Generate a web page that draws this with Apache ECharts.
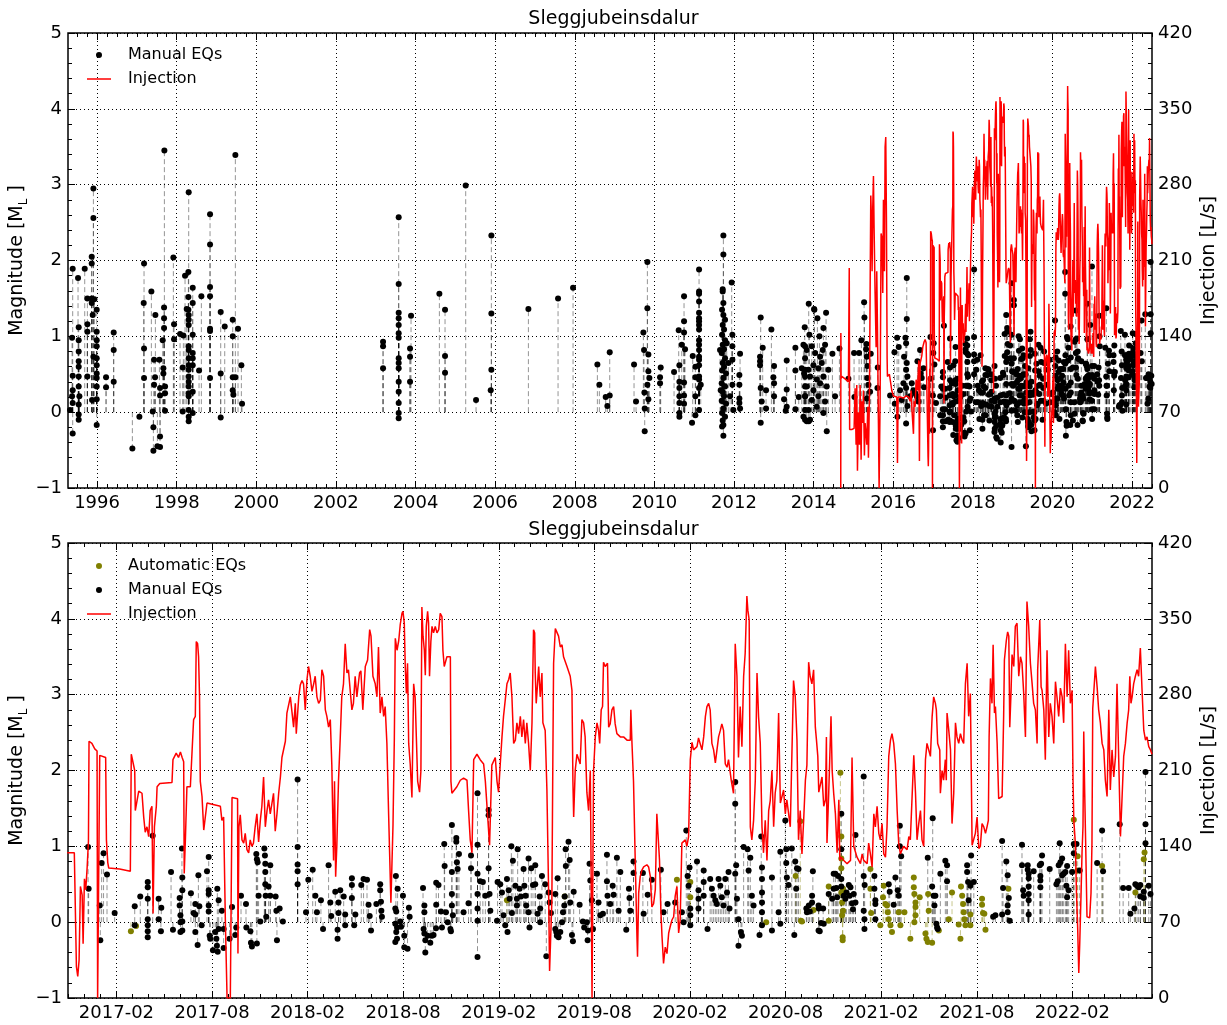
<!DOCTYPE html>
<html>
<head>
<meta charset="utf-8">
<title>Sleggjubeinsdalur</title>
<script src="https://cdn.jsdelivr.net/npm/echarts@6/dist/echarts.min.js"></script>
<style>
  html, body { margin: 0; padding: 0; background: #fff; }
  #chart { width: 1227px; height: 1025px; }
</style>
</head>
<body>
<div id="chart"></div>
<script>
// all times are decimal years, magnitudes in ML, injection in L/s

const topYearTicks = [1996, 1998, 2000, 2002, 2004, 2006, 2008, 2010, 2012, 2014, 2016, 2018, 2020, 2022];
const bottomMonthTicks = ['2017-02', '2017-08', '2018-02', '2018-08', '2019-02', '2019-08', '2020-02', '2020-08', '2021-02', '2021-08', '2022-02'];

const manualEQs = [
  [1995.388,1.89],[1995.522,1.77],[1995.69,1.89],[1995.372,0.98],[1995.388,0.48],[1995.388,0.29],[1995.372,0.21],[1995.388,0.12],
  [1995.322,0.03],[1995.388,-0.28],[1995.539,1.12],[1995.539,0.95],[1995.539,0.80],[1995.539,0.67],[1995.539,0.60],[1995.539,0.47],
  [1995.539,0.34],[1995.556,0.21],[1995.539,0.10],[1995.539,-0.03],[1995.539,-0.10],[1995.757,1.16],[1995.757,1.06],[1995.757,1.50],
  [1995.757,0.47],[1995.866,2.05],[1995.866,1.96],[1995.866,1.50],[1995.866,1.44],[1995.891,1.28],[1995.908,0.73],[1995.874,0.16],
  [1995.991,1.35],[1995.991,1.06],[1995.991,0.95],[1995.991,0.87],[1995.991,0.71],[1995.991,0.62],[1995.991,0.51],[1995.991,0.45],
  [1995.991,0.34],[1995.991,0.17],[1995.991,-0.17],[1995.933,1.49],[1995.908,2.95],[1995.908,2.56],[1996.226,0.46],[1996.226,0.33],
  [1996.418,1.05],[1996.418,0.82],[1996.418,0.40],[1996.887,-0.48],[1997.063,-0.06],[1997.18,1.96],[1997.172,1.44],[1997.18,0.84],
  [1997.18,0.45],[1997.364,1.59],[1997.398,0.01],[1997.415,-0.20],[1997.415,-0.51],[1997.432,0.36],[1997.432,0.69],[1997.465,1.28],
  [1997.457,0.46],[1997.515,-0.45],[1997.566,0.69],[1997.582,-0.32],[1997.582,-0.46],[1997.582,0.32],[1997.582,0.22],[1997.649,0.95],
  [1997.666,0.58],[1997.666,0.51],[1997.683,1.24],[1997.683,1.38],[1997.683,1.11],[1997.708,0.34],[1997.708,0.25],[1997.708,0.02],
  [1997.691,3.45],[1997.917,2.04],[1997.934,1.16],[1997.934,0.96],[1998.085,1.03],[1998.168,1.01],[1998.151,0.59],[1998.151,0.01],
  [1998.21,1.80],[1998.294,1.85],[1998.252,1.36],[1998.294,1.52],[1998.294,1.35],[1998.302,1.28],[1998.302,1.22],[1998.302,1.15],
  [1998.302,0.87],[1998.302,0.82],[1998.302,0.71],[1998.302,0.62],[1998.302,0.56],[1998.302,0.47],[1998.302,0.40],[1998.302,0.34],
  [1998.302,0.25],[1998.302,0.21],[1998.302,0.03],[1998.302,-0.06],[1998.302,-0.12],[1998.403,1.64],[1998.403,1.44],[1998.403,1.02],
  [1998.403,0.78],[1998.403,0.71],[1998.403,0.62],[1998.403,0.27],[1998.403,-0.01],[1998.302,2.90],[1998.562,0.55],[1998.62,1.53],
  [1998.838,1.65],[1998.838,1.53],[1998.838,1.10],[1998.838,1.07],[1998.838,0.45],[1998.838,2.61],[1998.838,2.21],[1999.106,1.32],
  [1999.106,0.51],[1999.106,-0.07],[1999.207,1.13],[1999.408,1.22],[1999.408,1.00],[1999.408,0.46],[1999.408,0.29],[1999.424,0.23],
  [1999.474,0.46],[1999.541,1.10],[1999.625,0.62],[1999.642,0.11],[1999.474,3.39],
  [2003.184,0.93],[2003.184,0.87],[2003.184,0.58],[2003.577,1.69],[2003.577,1.31],[2003.577,1.24],[2003.577,1.15],[2003.577,1.04],
  [2003.577,0.98],[2003.577,0.71],[2003.577,0.65],[2003.577,0.58],[2003.577,0.40],[2003.577,0.27],[2003.577,0.12],[2003.577,-0.01],
  [2003.577,-0.08],[2003.577,2.57],[2003.887,1.27],[2003.862,0.84],[2003.862,0.73],[2003.862,0.40],[2004.599,1.56],[2004.741,1.35],
  [2004.741,0.74],[2004.741,0.52],[2005.52,0.16],[2005.26,2.99],[2005.905,1.30],[2005.905,0.56],[2005.889,0.29],[2005.905,2.33],
  [2006.835,1.36],[2007.58,1.50],[2007.957,1.64],[2008.568,0.63],[2008.618,0.36],[2008.777,0.20],[2008.819,0.08],[2008.878,0.22],
  [2008.878,0.79],[2009.489,0.63],[2009.539,0.14],[2009.723,1.05],[2009.74,0.82],[2009.749,0.26],[2009.757,0.05],[2009.757,-0.25],
  [2009.824,1.98],[2009.824,1.37],[2009.849,0.76],[2009.849,0.54],[2009.874,0.45],[2009.824,0.36],[2009.849,0.17],[2010.159,0.59],
  [2010.142,0.46],[2010.142,0.38],[2010.494,0.53],[2010.611,1.08],[2010.628,0.62],[2010.628,0.40],[2010.628,0.32],[2010.628,0.21],
  [2010.628,0.12],[2010.628,-0.01],[2010.628,-0.06],[2010.687,0.89],[2010.745,1.53],[2010.745,1.20],[2010.745,1.05],[2010.77,0.83],
  [2010.745,0.39],[2010.745,0.22],[2010.745,0.11],[2010.963,0.74],[2010.946,-0.14],[2011.03,0.60],[2011.03,0.46],[2011.03,0.21],
  [2011.03,-0.04],[2011.122,1.88],[2011.122,1.59],[2011.122,1.56],[2011.122,1.46],[2011.122,1.31],[2011.122,1.24],[2011.122,1.20],
  [2011.122,1.15],[2011.122,1.09],[2011.122,0.95],[2011.122,0.89],[2011.122,0.82],[2011.122,0.73],[2011.122,0.69],[2011.122,0.62],
  [2011.122,0.47],[2011.122,0.43],[2011.164,0.36],[2011.122,0.32],[2011.122,0.03],
  [2011.733,2.33],[2011.733,2.08],[2011.716,1.62],[2011.716,1.59],[2011.733,1.44],[2011.70,1.35],[2011.733,1.28],[2011.775,1.22],
  [2011.716,1.15],[2011.75,1.09],[2011.70,1.02],[2011.775,0.95],[2011.716,0.89],[2011.75,0.83],[2011.691,0.78],[2011.775,0.71],
  [2011.716,0.65],[2011.75,0.60],[2011.70,0.55],[2011.80,0.51],[2011.733,0.45],[2011.691,0.38],[2011.775,0.34],[2011.716,0.27],
  [2011.75,0.21],[2011.691,0.15],[2011.80,0.11],[2011.733,0.05],[2011.70,-0.01],[2011.775,-0.06],[2011.716,-0.11],[2011.733,-0.17],
  [2011.70,-0.19],[2011.733,-0.31],[2011.649,0.82],[2011.666,0.29],[2011.817,0.91],[2011.859,0.65],[2011.942,1.71],[2011.959,1.02],
  [2011.959,0.87],[2011.959,0.69],[2011.959,0.36],[2011.90,0.21],[2011.984,0.03],[2012.152,0.77],[2012.135,0.49],[2012.135,0.36],
  [2012.135,0.18],[2012.135,0.12],[2012.152,0.05],[2012.671,1.25],[2012.721,0.85],[2012.654,0.73],[2012.654,0.67],[2012.654,0.62],
  [2012.671,0.32],[2012.696,0.14],[2012.671,-0.14],[2012.805,0.05],[2012.805,0.29],[2012.939,1.09],[2013.006,0.61],[2012.989,0.46],
  [2013.006,0.38],[2013.006,0.21],[2013.257,0.17],[2013.324,0.68],[2013.324,0.30],[2013.324,0.07],[2013.299,0.02],[2013.542,0.85],
  [2013.542,0.55],[2013.542,0.04],[2013.626,0.20],[2013.777,1.12],[2013.877,1.43],[2013.785,0.87],[2013.785,0.71],[2013.785,0.56],
  [2013.785,0.47],[2013.785,0.34],[2013.785,0.21],[2013.785,0.03],[2013.785,-0.10],[2013.877,-0.12],[2014.019,1.35],
  [2014.012,1.36],[2014.095,1.24],[2013.894,1.02],[2013.744,0.89],[2013.827,0.82],[2013.953,0.87],[2014.037,0.78],[2014.162,0.73],
  [2014.229,0.82],[2014.288,0.89],[2014.246,1.11],[2014.146,1.00],[2014.313,1.31],[2014.204,0.65],[2014.12,0.58],[2013.995,0.62],
  [2013.869,0.56],[2013.76,0.51],[2013.702,0.58],[2013.911,0.47],[2014.079,0.43],[2014.246,0.47],[2014.372,0.56],[2013.827,0.34],
  [2013.995,0.29],[2014.162,0.38],[2014.33,0.34],[2013.786,0.21],[2013.953,0.16],[2014.12,0.21],[2014.288,0.14],[2013.869,0.03],
  [2014.079,0.07],[2014.246,-0.01],[2013.744,-0.06],[2013.911,-0.10],[2013.827,-0.12],[2014.33,-0.25],[2014.472,0.77],[2014.539,0.21],
  [2014.648,0.84],[2014.874,0.44],[2015.016,0.78],[2015.025,0.20],[2015.142,0.78],[2015.20,0.95],[2015.268,1.45],[2015.276,1.25],
  [2015.326,0.90],[2015.318,0.83],[2015.335,0.73],[2015.351,0.61],[2015.351,0.45],[2015.376,0.36],[2015.418,0.27],[2015.335,0.18],
  [2015.435,0.77],[2015.611,0.59],[2015.603,0.32],[2015.921,0.22],[2016.03,0.79],[2016.038,0.11],[2016.105,-0.06],[2016.097,0.98],
  [2016.138,0.86],[2016.272,0.73],[2016.306,0.98],[2016.34,1.77],[2016.34,1.23],[2016.323,0.91],[2016.34,0.65],[2016.323,0.56],
  [2016.356,0.47],[2016.323,0.32],[2016.356,0.08],[2016.323,-0.15],[2016.214,0.16],[2016.256,0.38],[2016.172,0.29],[2016.423,0.21],
  [2016.465,0.38],[2016.507,0.29],[2016.549,0.25],[2016.591,0.21],[2016.608,0.67],[2016.633,0.14],[2016.674,0.82],[2016.691,0.51],
  [2016.716,0.45],[2016.758,0.58],[2016.775,0.33],
  [2016.935,0.99],[2016.938,0.44],[2016.996,0.22],[2016.999,-0.24],[2017.006,0.78],[2017.016,0.91],[2017.034,0.63],[2017.074,0.12],
  [2017.179,-0.04],[2017.179,0.21],[2017.208,0.34],[2017.247,0.53],[2017.247,0.46],[2017.247,0.31],[2017.247,0.04],[2017.247,-0.04],
  [2017.247,-0.12],[2017.247,-0.20],[2017.273,1.14],[2017.304,0.31],[2017.304,0.04],[2017.316,-0.12],[2017.318,0.19],[2017.369,0.66],
  [2017.379,-0.10],[2017.414,0.32],[2017.414,0.22],[2017.418,0.09],[2017.418,0.00],[2017.418,-0.13],[2017.426,0.97],[2017.428,0.59],
  [2017.428,0.42],[2017.428,0.01],[2017.428,-0.11],[2017.473,0.38],[2017.487,0.12],[2017.496,0.24],[2017.496,0.10],[2017.496,-0.13],
  [2017.508,-0.30],[2017.512,0.62],[2017.517,0.21],[2017.529,-0.04],[2017.557,0.67],[2017.566,0.86],[2017.566,0.42],[2017.566,0.37],
  [2017.566,0.22],[2017.566,0.14],[2017.571,-0.18],[2017.574,-0.22],[2017.588,-0.37],[2017.60,-0.13],[2017.606,-0.22],[2017.609,-0.31],
  [2017.613,-0.39],[2017.618,-0.09],[2017.611,0.44],[2017.618,0.29],[2017.635,0.15],[2017.644,-0.09],[2017.644,-0.34],[2017.675,-0.22],
  [2017.688,0.20],[2017.705,-0.17],[2017.71,-0.07],[2017.735,0.35],[2017.761,0.24],[2017.763,-0.07],[2017.784,-0.12],[2017.787,-0.27],
  [2017.792,-0.32],[2017.818,-0.28],[2017.815,0.90],[2017.818,0.83],[2017.822,0.79],[2017.827,0.35],[2017.836,0.01],[2017.86,0.88],
  [2017.857,0.97],[2017.862,0.77],[2017.862,0.66],[2017.862,0.50],[2017.864,0.35],[2017.867,0.07],[2017.879,0.47],[2017.888,0.75],
  [2017.888,0.35],[2017.916,0.34],[2017.92,0.15],[2017.923,-0.24],[2017.937,0.18],[2017.954,0.01],[2018.031,1.88],[2018.031,0.99],
  [2018.031,0.76],[2018.031,0.67],[2018.031,0.50],[2018.075,0.13],[2018.087,0.56],[2018.11,0.69],[2018.124,0.35],[2018.132,0.13],
  [2018.153,0.29],[2018.164,-0.09],[2018.193,0.75],[2018.202,0.26],[2018.207,0.08],[2018.228,0.40],[2018.245,0.26],[2018.245,0.12],
  [2018.24,-0.10],[2018.24,-0.22],[2018.254,0.42],[2018.272,0.34],[2018.28,0.10],[2018.28,-0.04],[2018.315,0.58],[2018.315,0.49],
  [2018.315,0.32],[2018.327,-0.04],[2018.333,0.10],[2018.364,0.49],[2018.376,0.57],[2018.394,0.56],[2018.402,0.23],[2018.408,0.08],
  [2018.415,-0.11],[2018.443,0.24],[2018.463,0.50],[2018.463,0.42],[2018.467,0.27],[2018.469,0.15],[2018.472,0.07],[2018.545,0.61],
  [2018.554,0.44],[2018.542,0.18],[2018.547,0.14],[2018.542,-0.02],[2018.551,-0.07],[2018.547,-0.13],[2018.551,-0.22],[2018.542,-0.26],
  [2018.568,0.01],[2018.572,-0.06],[2018.582,0.35],[2018.589,-0.18],[2018.589,-0.33],[2018.606,-0.35],[2018.613,0.19],[2018.617,0.07],
  [2018.687,0.45],[2018.694,0.22],[2018.694,0.13],[2018.69,-0.09],[2018.694,-0.15],[2018.699,-0.24],[2018.699,-0.40],[2018.711,-0.18],
  [2018.725,-0.27],[2018.734,-0.18],[2018.742,-0.17],[2018.755,-0.08],[2018.756,0.23],[2018.756,0.52],[2018.768,0.49],[2018.781,0.14],
  [2018.786,-0.07],[2018.798,1.03],[2018.80,0.74],[2018.807,0.13],[2018.816,0.00],[2018.83,-0.09],[2018.833,-0.12],[2018.838,1.28],
  [2018.838,0.66],[2018.838,0.37],[2018.838,0.22],[2018.843,0.09],[2018.861,1.11],[2018.861,1.06],[2018.864,0.79],[2018.868,0.70],
  [2018.875,0.90],[2018.899,0.13],[2018.925,0.25],[2018.938,0.88],[2018.938,0.71],[2018.972,1.70],[2018.972,1.02],[2018.972,0.64],
  [2018.972,0.37],[2018.972,0.18],[2018.972,0.02],[2018.972,-0.46],[2018.986,0.54],[2019.00,0.53],[2019.013,0.35],[2019.03,1.48],
  [2019.03,1.41],[2019.03,0.71],[2019.035,0.37],[2019.039,0.15],[2019.074,0.02],[2019.077,0.53],[2019.091,0.50],[2019.10,0.39],
  [2019.108,0.09],[2019.117,-0.04],[2019.129,-0.13],[2019.126,0.57],[2019.135,0.42],[2019.14,0.31],[2019.149,1.00],[2019.152,0.12],
  [2019.157,0.81],[2019.17,0.48],[2019.178,0.31],[2019.178,0.22],[2019.182,0.96],[2019.192,0.44],[2019.199,0.34],[2019.213,0.70],
  [2019.217,0.48],[2019.224,0.35],[2019.227,0.22],[2019.239,0.13],[2019.244,-0.07],[2019.239,0.84],[2019.253,0.71],[2019.262,0.49],
  [2019.274,0.75],[2019.274,0.50],[2019.286,0.11],[2019.297,0.34],[2019.30,0.18],[2019.30,0.00],[2019.309,0.61],[2019.326,0.50],
  [2019.332,-0.45],[2019.344,0.39],[2019.349,0.26],[2019.356,0.12],[2019.379,0.37],[2019.379,-0.09],[2019.384,-0.13],[2019.387,-0.18],
  [2019.396,-0.20],[2019.405,-0.13],[2019.414,0.00],[2019.419,0.13],[2019.426,0.22],[2019.391,0.58],[2019.428,0.34],[2019.434,0.74],
  [2019.433,0.96],[2019.448,1.06],[2019.454,0.82],[2019.457,0.26],[2019.466,-0.17],[2019.471,-0.25],[2019.475,0.40],[2019.506,0.23],
  [2019.523,0.01],[2019.53,-0.07],[2019.544,0.00],[2019.55,-0.11],[2019.548,-0.24],[2019.558,0.77],[2019.562,0.55],[2019.57,0.29],
  [2019.576,-0.09],[2019.597,0.64],[2019.605,0.26],[2019.614,0.09],[2019.628,0.11],[2019.649,0.89],[2019.649,0.54],[2019.652,0.35],
  [2019.666,0.24],[2019.679,0.48],[2019.684,0.36],[2019.701,0.85],[2019.71,0.15],[2019.719,0.66],[2019.75,-0.10],[2019.764,0.44],
  [2019.767,0.32],[2019.771,0.15],[2019.788,0.80],[2019.788,0.65],[2019.837,0.65],[2019.841,0.11],[2019.862,0.36],[2019.884,0.56],
  [2019.931,0.69],[2019.945,0.13],[2019.966,0.24],[2020.006,0.26],[2020.041,0.13],[2020.05,0.00],[2020.064,1.21],[2020.071,0.61],
  [2020.076,0.48],[2020.081,0.72],[2020.085,0.18],[2020.085,0.09],[2020.085,-0.04],[2020.12,0.80],[2020.128,0.42],[2020.128,0.31],
  [2020.128,0.18],[2020.155,0.68],[2020.155,0.53],[2020.155,0.35],[2020.175,-0.09],[2020.189,0.57],[2020.198,0.44],[2020.207,0.35],
  [2020.216,0.29],[2020.224,0.24],[2020.233,0.57],[2020.242,0.48],[2020.25,0.33],[2020.259,0.22],[2020.268,0.57],[2020.277,0.39],
  [2020.285,0.66],[2020.29,0.18],[2020.32,1.85],[2020.32,1.56],[2020.325,0.75],[2020.32,0.64],[2020.329,0.31],[2020.337,0.04],
  [2020.337,-0.31],[2020.35,-0.13],[2020.355,-0.18],[2020.364,0.99],[2020.385,0.96],[2020.39,0.68],[2020.399,0.85],[2020.407,0.35],
  [2020.416,0.22],[2020.447,-0.17],[2020.456,1.13],[2020.46,0.72],[2020.46,0.57],[2020.46,0.39],[2020.46,0.26],[2020.46,0.13],
  [2020.46,-0.04],[2020.512,0.59],[2020.512,-0.11],[2020.547,0.13],[2020.556,-0.02],[2020.556,0.93],[2020.582,1.34],[2020.587,0.96],
  [2020.587,0.78],[2020.59,0.59],[2020.599,0.49],[2020.616,0.97],[2020.629,-0.17],[2020.634,0.80],[2020.643,0.71],[2020.651,0.70],
  [2020.639,0.44],[2020.695,0.13],[2020.726,0.67],[2020.756,0.22],[2020.756,-0.11],
  [2020.692,0.18],[2020.705,0.22],[2020.71,0.14],[2020.722,0.26],[2020.722,0.35],[2020.757,0.18],[2020.762,-0.12],[2020.769,-0.01],
  [2020.783,-0.02],[2020.78,0.18],[2020.809,0.37],[2020.827,0.31],[2020.835,0.64],[2020.835,0.44],[2020.844,0.64],[2020.849,0.45],
  [2020.853,0.33],[2020.858,0.61],[2020.875,1.43],[2020.875,0.96],[2020.875,0.57],[2020.875,0.47],[2020.888,0.35],[2020.896,0.31],
  [2020.902,0.39],[2020.914,0.49],[2020.923,0.46],[2020.919,0.35],[2020.931,0.25],[2020.936,0.17],[2020.949,1.15],[2020.94,0.37],
  [2020.949,0.26],[2020.992,1.92],[2020.992,0.61],[2020.997,0.49],[2020.992,0.15],[2020.996,0.04],[2020.996,-0.09],[2021.048,0.61],
  [2021.048,0.44],[2021.053,0.29],[2021.053,0.24],[2021.053,0.04],[2021.123,0.50],[2021.128,0.40],[2021.149,0.23],[2021.158,0.59],
  [2021.17,0.42],[2021.175,0.35],[2021.181,1.27],[2021.181,1.00],[2021.188,0.87],[2021.327,0.85],[2021.353,1.37],[2021.35,0.47],
  [2021.358,0.35],[2021.367,0.35],[2021.362,0.22],[2021.372,-0.02],[2021.376,-0.07],[2021.379,-0.09],[2021.393,0.64],[2021.419,0.81],
  [2021.428,0.75],[2021.428,0.54],[2021.533,0.75],[2021.533,0.66],[2021.538,0.53],[2021.541,0.29],[2021.55,0.48],[2021.554,0.88],
  [2021.568,0.53],[2021.669,0.07],[2021.681,0.09],[2021.716,0.10],[2021.716,1.07],[2021.721,0.45],[2021.738,0.80],[2021.745,0.62],
  [2021.751,0.32],[2021.745,0.22],[2021.745,0.13],[2021.756,0.02],[2021.82,1.02],[2021.82,0.75],[2021.826,0.42],[2021.829,0.35],
  [2021.85,0.75],[2021.85,0.69],[2021.855,0.64],[2021.855,0.58],[2021.855,0.47],[2021.855,0.37],[2021.855,0.29],[2021.855,0.10],
  [2021.881,0.67],[2021.913,0.75],[2021.92,0.77],[2021.925,0.88],[2021.916,0.61],[2021.916,0.55],[2021.916,0.46],[2021.965,0.70],
  [2022.00,0.50],[2022.007,0.54],[2022.017,1.04],[2022.012,0.75],[2022.021,0.79],[2022.03,0.84],[2022.03,0.62],[2022.038,0.64],
  [2022.047,0.66],[2022.052,0.48],[2022.056,0.33],[2022.064,0.42],[2022.056,0.74],[2022.082,0.66],[2022.091,1.03],[2022.091,0.91],
  [2022.105,1.03],[2022.122,0.68],[2022.213,0.78],[2022.239,1.21],[2022.244,0.67],[2022.331,1.29],[2022.349,0.45],[2022.378,0.45],
  [2022.387,0.11],[2022.408,0.18],[2022.413,0.50],[2022.422,0.48],[2022.43,0.46],[2022.439,0.49],[2022.439,0.34],[2022.457,0.40],
  [2022.457,0.32],[2022.466,1.04],[2022.466,1.29],[2022.466,1.98],[2022.483,0.48],[2022.492,0.37]
];

const automaticEQs = [
  [2017.159,-0.12],[2017.186,-0.05],[2019.126,0.29],[2019.428,0.34],[2020.015,0.56],[2020.085,0.53],[2020.085,0.33],[2020.482,0.00],
  [2020.636,0.61],[2020.66,1.33],[2020.664,0.02],[2020.669,0.01],[2020.73,0.16],[2020.809,0.47],[2020.809,0.02],[2020.87,1.97],
  [2020.875,1.13],[2020.875,0.84],[2020.875,0.71],[2020.884,0.44],[2020.875,0.39],[2020.879,0.26],[2020.884,0.15],[2020.879,0.09],
  [2020.882,-0.20],[2020.882,-0.24],[2021.027,0.70],[2021.027,0.44],[2021.031,0.12],[2021.079,-0.04],[2021.093,0.33],[2021.097,0.48],
  [2021.106,0.24],[2021.114,0.22],[2021.118,0.13],[2021.123,0.04],[2021.132,-0.04],[2021.14,-0.13],[2021.175,0.13],[2021.184,-0.04],
  [2021.205,0.13],[2021.236,-0.22],[2021.254,0.59],[2021.254,0.46],[2021.257,0.37],[2021.263,0.26],[2021.263,0.20],[2021.263,0.09],
  [2021.257,0.00],[2021.285,0.33],[2021.315,-0.15],[2021.32,-0.22],[2021.327,-0.26],[2021.332,0.15],[2021.329,0.37],[2021.35,-0.27],
  [2021.385,-0.11],[2021.437,0.04],[2021.454,0.39],[2021.489,-0.03],[2021.498,-0.22],[2021.501,0.47],[2021.507,0.35],[2021.512,0.24],
  [2021.515,0.13],[2021.519,0.04],[2021.524,-0.04],[2021.55,0.10],[2021.55,-0.04],[2021.611,0.31],[2021.611,0.23],[2021.616,0.12],
  [2021.623,0.11],[2021.629,-0.10],[2021.749,0.44],[2022.091,1.35],[2022.111,0.87],[2022.111,0.68],[2022.239,0.74],[2022.413,0.39],
  [2022.461,0.92],[2022.457,0.83]
];

const injection = [
  [2014.682,0],[2014.684,143],[2014.69,101],[2014.707,103],[2014.749,104],[2014.816,100],[2014.874,98],[2014.895,203],[2014.905,54],
  [2014.958,54],[2015.017,55],[2015.042,92],[2015.067,40],[2015.084,95],[2015.101,16],[2015.126,70],[2015.151,40],[2015.168,95],
  [2015.193,26],[2015.209,80],[2015.235,60],[2015.251,90],[2015.276,30],[2015.293,60],[2015.318,50],[2015.335,40],[2015.36,75],
  [2015.377,28],[2015.402,85],[2015.419,180],[2015.436,270],[2015.452,250],[2015.469,200],[2015.486,260],[2015.503,288],[2015.519,240],
  [2015.544,180],[2015.57,130],[2015.586,200],[2015.603,150],[2015.628,60],[2015.645,0],[2015.67,80],[2015.695,235],[2015.72,230],
  [2015.737,180],[2015.754,266],[2015.779,200],[2015.796,315],[2015.812,324],[2015.829,250],[2015.846,120],[2015.854,103],[2015.904,105],
  [2015.938,104],[2015.963,90],[2016.005,85],[2016.047,86],[2016.089,84],[2016.106,23],[2016.122,84],[2016.173,84],[2016.256,83],
  [2016.323,85],[2016.382,84],[2016.424,80],[2016.449,90],[2016.474,70],[2016.508,50],[2016.524,80],[2016.549,75],[2016.575,100],
  [2016.608,90],[2016.642,118],[2016.658,25],[2016.675,115],[2016.717,122],[2016.742,130],[2016.776,135],[2016.801,137],[2016.826,134],
  [2016.834,134],[2016.863,134],[2016.874,29],[2016.881,20],[2016.888,35],[2016.895,103],[2016.904,95],[2016.909,50],[2016.916,110],
  [2016.923,100],[2016.93,120],[2016.937,145],[2016.94,237],[2016.955,235],[2016.97,230],[2016.982,228],[2016.985,0],[2016.993,0],
  [2016.996,224],[2017.027,222],[2017.031,146],[2017.038,125],[2017.043,120],[2017.1,119],[2017.156,117],[2017.161,225],[2017.17,225],
  [2017.179,210],[2017.182,173],[2017.19,173],[2017.2,191],[2017.217,189],[2017.226,167],[2017.234,153],[2017.243,158],[2017.252,149],
  [2017.26,173],[2017.269,177],[2017.275,78],[2017.282,158],[2017.292,177],[2017.296,195],[2017.31,198],[2017.374,199],[2017.379,220],
  [2017.396,226],[2017.408,222],[2017.418,227],[2017.427,222],[2017.435,218],[2017.438,115],[2017.444,146],[2017.452,195],[2017.47,195],
  [2017.487,257],[2017.496,260],[2017.501,329],[2017.508,327],[2017.513,315],[2017.518,278],[2017.522,200],[2017.531,186],[2017.54,155],
  [2017.557,180],[2017.566,180],[2017.627,177],[2017.635,164],[2017.644,167],[2017.653,72],[2017.662,0],[2017.679,0],[2017.688,185],
  [2017.717,184],[2017.719,41],[2017.724,158],[2017.731,169],[2017.74,146],[2017.749,143],[2017.757,152],[2017.766,137],[2017.775,134],
  [2017.783,146],[2017.792,140],[2017.8,143],[2017.809,158],[2017.818,170],[2017.827,144],[2017.836,164],[2017.844,177],[2017.853,204],
  [2017.862,158],[2017.871,173],[2017.879,183],[2017.888,170],[2017.897,180],[2017.905,189],[2017.914,154],[2017.923,170],[2017.932,189],
  [2017.941,204],[2017.949,222],[2017.967,237],[2017.975,263],[2017.993,278],[2018.01,250],[2018.019,272],[2018.024,244],[2018.037,278],
  [2018.045,289],[2018.054,293],[2018.062,290],[2018.071,266],[2018.08,294],[2018.088,306],[2018.097,297],[2018.106,283],[2018.115,290],
  [2018.123,297],[2018.132,278],[2018.141,272],[2018.15,275],[2018.158,303],[2018.167,297],[2018.176,266],[2018.184,260],[2018.193,250],
  [2018.202,257],[2018.21,215],[2018.219,127],[2018.224,200],[2018.23,112],[2018.236,140],[2018.245,201],[2018.254,240],[2018.262,278],
  [2018.271,290],[2018.28,327],[2018.289,300],[2018.297,303],[2018.306,284],[2018.315,266],[2018.323,272],[2018.332,297],[2018.341,278],
  [2018.355,300],[2018.362,302],[2018.372,266],[2018.385,306],[2018.397,312],[2018.408,340],[2018.415,334],[2018.425,297],[2018.437,290],
  [2018.446,278],[2018.454,324],[2018.463,263],[2018.472,278],[2018.481,260],[2018.489,269],[2018.498,235],[2018.507,170],[2018.519,88],
  [2018.53,160],[2018.537,240],[2018.542,332],[2018.551,321],[2018.56,330],[2018.568,345],[2018.577,355],[2018.582,357],[2018.589,346],
  [2018.594,306],[2018.6,281],[2018.606,309],[2018.612,235],[2018.62,216],[2018.629,185],[2018.638,290],[2018.646,277],[2018.652,241],
  [2018.659,200],[2018.669,190],[2018.676,210],[2018.681,361],[2018.687,334],[2018.694,321],[2018.699,298],[2018.704,343],[2018.711,357],
  [2018.716,346],[2018.721,297],[2018.728,329],[2018.734,343],[2018.742,337],[2018.751,343],[2018.76,337],[2018.769,340],[2018.777,355],
  [2018.786,352],[2018.791,321],[2018.798,306],[2018.812,315],[2018.83,315],[2018.833,200],[2018.838,189],[2018.864,195],[2018.882,201],
  [2018.899,203],[2018.917,201],[2018.925,174],[2018.934,146],[2018.943,134],[2018.952,220],[2018.969,225],[2018.986,220],[2019.004,216],
  [2019.013,200],[2019.035,141],[2019.047,215],[2019.065,222],[2019.074,200],[2019.082,190],[2019.091,216],[2019.1,241],[2019.108,260],
  [2019.117,275],[2019.126,290],[2019.135,294],[2019.143,300],[2019.152,278],[2019.161,235],[2019.17,238],[2019.178,254],[2019.187,244],
  [2019.196,260],[2019.204,241],[2019.213,257],[2019.222,235],[2019.23,254],[2019.239,235],[2019.248,210],[2019.257,254],[2019.265,340],
  [2019.271,337],[2019.274,300],[2019.279,272],[2019.286,290],[2019.292,306],[2019.3,278],[2019.309,300],[2019.314,254],[2019.321,250],
  [2019.326,247],[2019.335,192],[2019.344,97],[2019.349,25],[2019.356,25],[2019.361,90],[2019.366,220],[2019.37,309],[2019.379,341],
  [2019.387,340],[2019.396,334],[2019.405,324],[2019.414,326],[2019.422,315],[2019.44,306],[2019.457,297],[2019.466,284],[2019.471,200],
  [2019.475,167],[2019.483,210],[2019.492,225],[2019.509,216],[2019.518,257],[2019.527,254],[2019.535,241],[2019.544,190],[2019.553,173],
  [2019.562,210],[2019.567,100],[2019.571,0],[2019.576,0],[2019.579,210],[2019.588,241],[2019.597,254],[2019.605,247],[2019.611,235],
  [2019.619,266],[2019.626,269],[2019.631,310],[2019.64,306],[2019.649,306],[2019.652,309],[2019.658,250],[2019.666,253],[2019.675,266],
  [2019.684,269],[2019.692,253],[2019.701,244],[2019.719,241],[2019.736,241],[2019.754,238],[2019.771,238],[2019.774,266],[2019.78,235],
  [2019.788,200],[2019.797,127],[2019.806,57],[2019.809,38],[2019.815,97],[2019.823,112],[2019.832,118],[2019.841,121],[2019.858,123],
  [2019.867,121],[2019.876,112],[2019.884,84],[2019.893,87],[2019.902,100],[2019.91,170],[2019.919,169],[2019.924,127],[2019.931,81],
  [2019.937,57],[2019.945,32],[2019.954,47],[2019.963,41],[2019.972,60],[2019.98,66],[2019.989,72],[2019.998,75],[2020.006,94],
  [2020.015,103],[2020.024,60],[2020.032,72],[2020.041,143],[2020.05,143],[2020.059,146],[2020.067,140],[2020.076,149],[2020.085,220],
  [2020.094,236],[2020.102,229],[2020.12,232],[2020.128,240],[2020.146,229],[2020.155,241],[2020.164,260],[2020.172,269],[2020.181,272],
  [2020.189,266],[2020.198,235],[2020.207,229],[2020.216,217],[2020.233,241],[2020.242,247],[2020.25,253],[2020.259,247],[2020.268,216],
  [2020.277,213],[2020.285,220],[2020.3,200],[2020.311,189],[2020.32,327],[2020.329,297],[2020.337,222],[2020.346,269],[2020.355,232],
  [2020.364,297],[2020.372,318],[2020.381,371],[2020.386,358],[2020.393,349],[2020.399,158],[2020.407,146],[2020.416,164],[2020.425,201],
  [2020.434,300],[2020.442,260],[2020.451,235],[2020.46,158],[2020.468,134],[2020.477,164],[2020.486,127],[2020.495,173],[2020.503,182],
  [2020.512,210],[2020.521,158],[2020.529,189],[2020.538,201],[2020.547,263],[2020.556,180],[2020.573,192],[2020.582,170],[2020.59,183],
  [2020.608,158],[2020.625,293],[2020.634,278],[2020.643,238],[2020.651,146],[2020.66,173],[2020.669,133],[2020.678,164],[2020.687,201],
  [2020.695,215],[2020.704,310],[2020.712,297],[2020.721,290],[2020.73,303],[2020.739,250],[2020.745,238],[2020.752,223],[2020.757,190],
  [2020.766,189],[2020.774,204],[2020.783,177],[2020.792,183],[2020.797,241],[2020.8,143],[2020.809,189],[2020.821,260],[2020.827,210],
  [2020.835,189],[2020.844,170],[2020.853,134],[2020.862,183],[2020.867,127],[2020.874,130],[2020.888,127],[2020.905,124],[2020.923,127],
  [2020.931,222],[2020.94,140],[2020.957,130],[2020.975,124],[2020.984,133],[2020.992,127],[2021.01,124],[2021.018,143],[2021.027,133],
  [2021.036,121],[2021.045,170],[2021.053,158],[2021.062,177],[2021.071,152],[2021.079,146],[2021.088,161],[2021.097,133],[2021.106,130],
  [2021.114,158],[2021.123,223],[2021.132,238],[2021.14,244],[2021.149,235],[2021.158,216],[2021.167,173],[2021.175,143],[2021.184,133],
  [2021.193,137],[2021.201,140],[2021.219,137],[2021.228,149],[2021.236,146],[2021.254,224],[2021.263,189],[2021.271,146],[2021.28,161],
  [2021.289,173],[2021.297,146],[2021.306,140],[2021.315,220],[2021.323,235],[2021.332,229],[2021.341,223],[2021.35,260],[2021.358,278],
  [2021.367,272],[2021.372,266],[2021.379,235],[2021.39,229],[2021.393,189],[2021.402,210],[2021.41,201],[2021.419,220],[2021.424,201],
  [2021.428,263],[2021.437,247],[2021.446,229],[2021.454,161],[2021.463,189],[2021.472,254],[2021.48,241],[2021.489,235],[2021.498,244],
  [2021.507,238],[2021.515,235],[2021.524,290],[2021.533,309],[2021.541,260],[2021.55,281],[2021.559,141],[2021.568,140],[2021.576,152],
  [2021.585,167],[2021.594,138],[2021.602,140],[2021.611,161],[2021.62,158],[2021.629,152],[2021.637,158],[2021.644,164],[2021.648,241],
  [2021.655,295],[2021.663,272],[2021.669,326],[2021.676,263],[2021.681,269],[2021.69,235],[2021.698,184],[2021.707,184],[2021.716,186],
  [2021.724,260],[2021.728,312],[2021.738,330],[2021.745,338],[2021.751,334],[2021.756,250],[2021.763,284],[2021.768,317],[2021.777,306],
  [2021.785,343],[2021.794,346],[2021.803,297],[2021.812,315],[2021.82,309],[2021.829,281],[2021.838,241],[2021.846,366],[2021.855,343],
  [2021.864,309],[2021.873,290],[2021.881,272],[2021.89,266],[2021.899,235],[2021.902,303],[2021.913,349],[2021.92,287],[2021.925,284],
  [2021.934,266],[2021.942,220],[2021.951,321],[2021.96,241],[2021.968,272],[2021.977,260],[2021.986,235],[2021.995,292],[2022.003,278],
  [2022.012,260],[2022.021,286],[2022.03,278],[2022.038,254],[2022.047,327],[2022.056,278],[2022.064,321],[2022.073,272],[2022.082,284],
  [2022.087,200],[2022.091,164],[2022.099,143],[2022.105,97],[2022.111,66],[2022.117,23],[2022.122,50],[2022.129,97],[2022.134,134],
  [2022.139,158],[2022.143,246],[2022.148,189],[2022.153,143],[2022.16,75],[2022.174,74],[2022.181,97],[2022.186,143],[2022.19,267],
  [2022.204,306],[2022.213,287],[2022.221,266],[2022.23,254],[2022.239,235],[2022.248,229],[2022.256,201],[2022.265,186],[2022.274,266],
  [2022.282,192],[2022.291,229],[2022.3,204],[2022.309,223],[2022.317,290],[2022.326,220],[2022.335,149],[2022.343,183],[2022.352,223],
  [2022.361,235],[2022.37,254],[2022.378,266],[2022.384,297],[2022.39,272],[2022.396,278],[2022.404,290],[2022.413,297],[2022.422,303],
  [2022.43,297],[2022.439,323],[2022.448,284],[2022.457,247],[2022.466,238],[2022.474,241],[2022.483,232],[2022.492,229],[2022.5,225]
];

const FONT = 'DejaVu Sans';
const TOP_MIN = 1995.27, TOP_MAX = 2022.5;
const BOT_MIN = 2016.83, BOT_MAX = 2022.5;

const monthToYear = s => { const p = s.split('-').map(Number); return p[0] + (p[1] - 1) / 12; };
const bottomTickValues = bottomMonthTicks.map(monthToYear);
const topMinorTicks = [];
for (let q = 1995 * 4; q <= 2022 * 4 + 2; q++) topMinorTicks.push(q / 4);
const bottomMinorTicks = [];
for (let m = 2016 * 12 + 10; m <= 2022 * 12 + 6; m++) bottomMinorTicks.push(m / 12);

const fmtYear = v => String(Math.round(v));
const fmtMonth = v => {
  const y = Math.floor(v + 1e-6);
  const m = Math.round((v - y) * 12) + 1;
  return y + '-' + String(m).padStart(2, '0');
};

// legend icons drawn in a 36x14 box
const dotIcon = 'path://M0,0L0.01,0M36,14L35.99,14M12,4A3,3,0,1,1,12,10A3,3,0,1,1,12,4Z';
const lineIcon = 'path://M0,0L0.01,0M36,14L35.99,14M0,6.2L24,6.2L24,7.8L0,7.8Z';

function xTickAxis(gridIndex, position, min, max, values, len, formatter) {
  const major = !!formatter;
  return {
    type: 'value', gridIndex: gridIndex, position: position, min: min, max: max, silent: true,
    axisLine: { show: false, onZero: false },
    axisTick: { show: true, inside: true, length: len, customValues: values, lineStyle: { color: '#000', width: 1 } },
    axisLabel: (major && position === 'bottom')
      ? { show: true, customValues: values, formatter: formatter, margin: 6, color: '#000', fontSize: 18, fontFamily: FONT }
      : { show: false },
    splitLine: (major && position === 'bottom')
      ? { show: true, lineStyle: { color: '#000', type: [1, 3], width: 1 } }
      : { show: false }
  };
}

function magAxis(gridIndex) {
  return {
    type: 'value', gridIndex: gridIndex, position: 'left', min: -1, max: 5, interval: 1, silent: true,
    name: 'Magnitude [M{sub|L} ]', nameLocation: 'middle', nameGap: 38, nameRotate: 90, nameMoveOverlap: false,
    nameTextStyle: {
      fontSize: 19, fontFamily: FONT, color: '#000', lineHeight: 26,
      rich: { sub: { fontSize: 12, fontFamily: FONT, color: '#000', verticalAlign: 'bottom', lineHeight: 14 } }
    },
    axisLine: { show: false, onZero: false },
    axisTick: { show: true, inside: true, length: 7, lineStyle: { color: '#000' } },
    minorTick: { show: true, splitNumber: 5, length: 4, lineStyle: { color: '#000' } },
    axisLabel: { color: '#000', fontSize: 18, fontFamily: FONT, margin: 6,
      formatter: v => (v < 0 ? '\u2212' + (-v) : String(v)) },
    splitLine: { show: true, lineStyle: { color: '#000', type: [1, 3], width: 1 } }
  };
}

function injAxis(gridIndex) {
  return {
    type: 'value', gridIndex: gridIndex, position: 'right', min: 0, max: 420, interval: 70, silent: true,
    name: 'Injection [L/s]', nameLocation: 'middle', nameGap: 48, nameRotate: 90, nameMoveOverlap: false,
    nameTextStyle: { fontSize: 19, fontFamily: FONT, color: '#000' },
    axisLine: { show: false, onZero: false },
    axisTick: { show: true, inside: true, length: 7, lineStyle: { color: '#000' } },
    minorTick: { show: true, splitNumber: 5, length: 4, lineStyle: { color: '#000' } },
    axisLabel: { color: '#000', fontSize: 18, fontFamily: FONT, margin: 6 },
    splitLine: { show: false }
  };
}

function stemSeries(name, data, xi, yi, color) {
  return {
    name: name, type: 'custom', xAxisIndex: xi, yAxisIndex: yi, data: data, clip: true, silent: true, z: 1,
    encode: { x: 0, y: 1 },
    renderItem: function (params, api) {
      const t = api.value(0), m = api.value(1);
      const p0 = api.coord([t, 0]);
      const p1 = api.coord([t, m]);
      return {
        type: 'line',
        shape: { x1: p0[0], y1: p0[1], x2: p1[0], y2: p1[1] },
        style: { stroke: color, lineWidth: 1, lineDash: [5, 3] }
      };
    }
  };
}

function dotSeries(name, data, xi, yi, color) {
  return {
    name: name, type: 'scatter', xAxisIndex: xi, yAxisIndex: yi, data: data,
    symbol: 'circle', symbolSize: 6, itemStyle: { color: color, opacity: 1 }, color: color, z: 2, silent: true
  };
}

function injSeries(data, xi, yi) {
  return {
    name: 'Injection', type: 'line', xAxisIndex: xi, yAxisIndex: yi, data: data,
    showSymbol: false, symbol: 'none', color: '#ff0000', z: 3, silent: true,
    lineStyle: { color: '#ff0000', width: 1.5 }
  };
}

const manualBottom = manualEQs.filter(d => d[0] >= BOT_MIN);
const injectionBottom = injection.filter(d => d[0] >= 2016.82);

const legendBase = {
  orient: 'vertical', left: 82, itemWidth: 36, itemHeight: 14, itemGap: 8, selectedMode: false,
  itemStyle: { borderWidth: 0, opacity: 1 },
  textStyle: { fontSize: 16, fontFamily: FONT, color: '#000' }
};

const chart = echarts.init(document.getElementById('chart'), null, { renderer: 'canvas' });
chart.setOption({
  animation: false,
  backgroundColor: '#fff',
  title: [
    { text: 'Sleggjubeinsdalur', left: 'center', top: 10, padding: 0,
      textStyle: { fontSize: 19, fontWeight: 'normal', fontFamily: FONT, color: '#000' } },
    { text: 'Sleggjubeinsdalur', left: 'center', top: 521, padding: 0,
      textStyle: { fontSize: 19, fontWeight: 'normal', fontFamily: FONT, color: '#000' } }
  ],
  legend: [
    Object.assign({}, legendBase, { top: 42, data: [
      { name: 'Manual EQs', icon: dotIcon },
      { name: 'Injection', icon: lineIcon }
    ] }),
    Object.assign({}, legendBase, { top: 553, data: [
      { name: 'Automatic EQs', icon: dotIcon },
      { name: 'Manual EQs', icon: dotIcon },
      { name: 'Injection', icon: lineIcon }
    ] })
  ],
  grid: [
    { left: 68, top: 33, width: 1084, height: 455, show: true, borderColor: '#000', borderWidth: 1.5,
      backgroundColor: 'transparent', containLabel: false, outerBoundsMode: 'none' },
    { left: 68, top: 543, width: 1084, height: 455, show: true, borderColor: '#000', borderWidth: 1.5,
      backgroundColor: 'transparent', containLabel: false, outerBoundsMode: 'none' }
  ],
  xAxis: [
    xTickAxis(0, 'bottom', TOP_MIN, TOP_MAX, topYearTicks, 7, fmtYear),
    xTickAxis(0, 'bottom', TOP_MIN, TOP_MAX, topMinorTicks, 4, null),
    xTickAxis(0, 'top', TOP_MIN, TOP_MAX, topYearTicks, 7, fmtYear),
    xTickAxis(0, 'top', TOP_MIN, TOP_MAX, topMinorTicks, 4, null),
    xTickAxis(1, 'bottom', BOT_MIN, BOT_MAX, bottomTickValues, 7, fmtMonth),
    xTickAxis(1, 'bottom', BOT_MIN, BOT_MAX, bottomMinorTicks, 4, null),
    xTickAxis(1, 'top', BOT_MIN, BOT_MAX, bottomTickValues, 7, fmtMonth),
    xTickAxis(1, 'top', BOT_MIN, BOT_MAX, bottomMinorTicks, 4, null)
  ],
  yAxis: [magAxis(0), injAxis(0), magAxis(1), injAxis(1)],
  series: [
    stemSeries('stems-manual-top', manualEQs, 0, 0, 'rgba(0,0,0,0.42)'),
    dotSeries('Manual EQs', manualEQs, 0, 0, '#000000'),
    injSeries(injection, 0, 1),
    stemSeries('stems-auto', automaticEQs, 4, 2, 'rgba(128,128,0,0.45)'),
    stemSeries('stems-manual-bottom', manualBottom, 4, 2, 'rgba(0,0,0,0.42)'),
    dotSeries('Automatic EQs', automaticEQs, 4, 2, '#808000'),
    dotSeries('Manual EQs', manualBottom, 4, 2, '#000000'),
    injSeries(injectionBottom, 4, 3)
  ]
});
</script>
</body>
</html>
